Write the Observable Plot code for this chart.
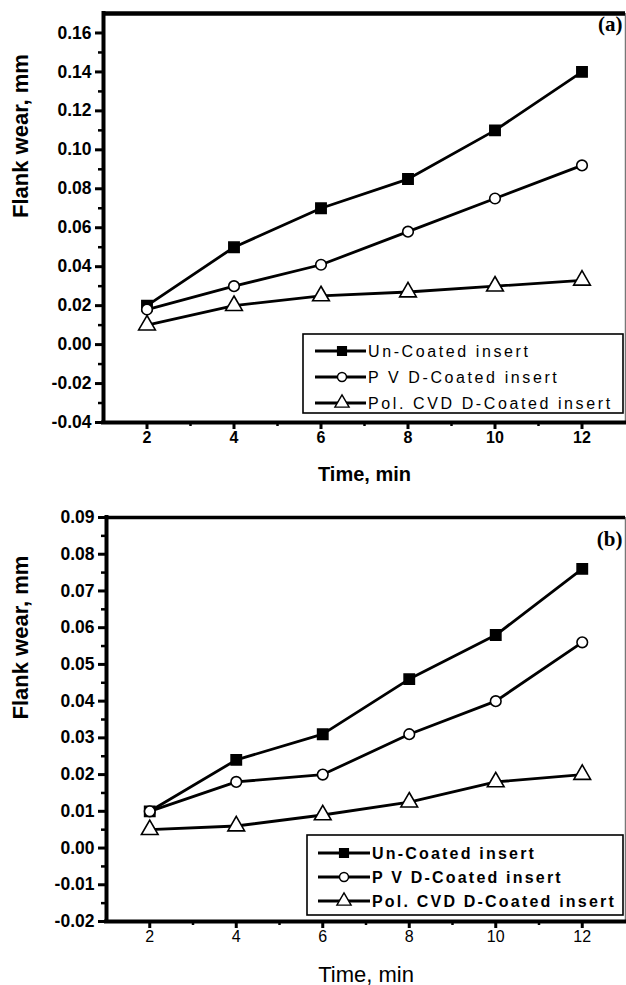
<!DOCTYPE html>
<html><head><meta charset="utf-8">
<script src="https://cdn.jsdelivr.net/npm/d3@7"></script>
<script src="https://cdn.jsdelivr.net/npm/@observablehq/plot@0.6"></script>
<style>
body{margin:0;background:#fff;width:626px;}
#chart svg{display:block;}
</style></head><body><div id="chart"></div>
<script>
// ---- data ----
const timeMin = [2, 4, 6, 8, 10, 12];
const seriesNames = ["Un-Coated insert", "P V D-Coated insert", "Pol. CVD D-Coated insert"];
const seriesSymbols = ["square", "circle", "triangle"];

const wearA_uncoated = [0.020, 0.050, 0.070, 0.085, 0.110, 0.140];
const wearA_pvd      = [0.018, 0.030, 0.041, 0.058, 0.075, 0.092];
const wearA_cvd      = [0.010, 0.020, 0.025, 0.027, 0.030, 0.033];

const wearB_uncoated = [0.010, 0.024, 0.031, 0.046, 0.058, 0.076];
const wearB_pvd      = [0.010, 0.018, 0.020, 0.031, 0.040, 0.056];
const wearB_cvd      = [0.005, 0.006, 0.009, 0.0125, 0.018, 0.020];

const xDomain = [1, 13];
const xTicks = [2, 4, 6, 8, 10, 12];
const xMinorTicks = [3, 5, 7, 9, 11];
const yDomainA = [-0.04, 0.17];
const yTicksA = [-0.04, -0.02, 0.00, 0.02, 0.04, 0.06, 0.08, 0.10, 0.12, 0.14, 0.16];
const yMinorTicksA = [-0.03, -0.01, 0.01, 0.03, 0.05, 0.07, 0.09, 0.11, 0.13, 0.15];
const yDomainB = [-0.02, 0.09];
const yTicksB = [-0.02, -0.01, 0.00, 0.01, 0.02, 0.03, 0.04, 0.05, 0.06, 0.07, 0.08, 0.09];
const yMinorTicksB = [-0.015, -0.005, 0.005, 0.015, 0.025, 0.035, 0.045, 0.055, 0.065, 0.075, 0.085];

const xLabel = "Time, min";
const yLabel = "Flank wear, mm";

// ---- styles ----
const markFill = ["black", "white", "white"];
const markR = [5.8, 5.3, 6.2];
const sans = "'Liberation Sans', Arial, Helvetica, sans-serif";
const serif = "'Liberation Serif', 'Times New Roman', serif";

function tidy(series) {
  const out = [];
  series.forEach((vals, i) => vals.forEach((v, j) => out.push({series: seriesNames[i], time: timeMin[j], wear: v})));
  return out;
}

function panel(cfg) {
  const data = tidy(cfg.series);
  const marks = [
    Plot.ruleX([xDomain[1]], {stroke: "#777", strokeWidth: 1.5}),
    Plot.ruleY([cfg.yDomain[1]], {stroke: "black", strokeWidth: cfg.topW}),
    Plot.ruleY([cfg.yDomain[0]], {stroke: "black", strokeWidth: 4, strokeLinecap: "square"}),
    Plot.ruleX([xDomain[0]], {stroke: "black", strokeWidth: 4, strokeLinecap: "square"}),
    Plot.axisX({ticks: xTicks, tickSize: 7, tickPadding: cfg.xPad, strokeWidth: 3, tickFormat: d => String(d),
      fontSize: 16, fontWeight: cfg.xTickWeight, label: null}),
    Plot.axisX({ticks: xMinorTicks, tickSize: 4, strokeWidth: 2.5, tickFormat: () => "", label: null}),
    Plot.axisY({ticks: cfg.yTicks, tickSize: 8, tickPadding: 4, strokeWidth: 3, tickFormat: d => d.toFixed(2),
      fontSize: 17.5, fontWeight: "bold", label: null}),
    Plot.axisY({ticks: cfg.yMinor, tickSize: 5, strokeWidth: 2.5, tickFormat: () => "", label: null}),
    Plot.text([xLabel], {frameAnchor: "bottom", dy: cfg.xLabelOffset, lineAnchor: "bottom",
      fontSize: cfg.xLabelSize, fontWeight: cfg.xLabelWeight, fontFamily: sans, fill: "black"}),
    Plot.text([yLabel], {frameAnchor: "left", dx: -cfg.yLabelOffset, rotate: -90, lineAnchor: "top",
      fontSize: 22, fontWeight: "bold", fontFamily: sans, fill: "black"}),
    Plot.line(data, {x: "time", y: "wear", z: "series", stroke: "black", strokeWidth: 2.8}),
    ...seriesNames.map((name, i) => Plot.dot(data, {
      filter: d => d.series === name, x: "time", y: "wear",
      symbol: () => seriesSymbols[i], r: markR[i], fill: markFill[i], stroke: "black", strokeWidth: 1.6
    })),
    Plot.text([cfg.tag], {frameAnchor: "top-right", dx: -3, dy: cfg.tagDy, lineAnchor: "middle", textAnchor: "end",
      fontFamily: serif, fontWeight: "bold", fontSize: 21, fill: "black"})
  ];
  const svg = Plot.plot({
    width: 626, height: cfg.height,
    marginLeft: cfg.ml, marginRight: 1, marginTop: cfg.mt, marginBottom: cfg.mb,
    style: {fontFamily: sans, color: "black", background: "white", overflow: "visible"},
    x: {domain: xDomain},
    y: {domain: cfg.yDomain},
    symbol: {domain: seriesNames, range: seriesSymbols},
    marks
  });
  // legend
  const L = cfg.legend;
  const g = d3.select(svg).append("g").attr("class", "legend");
  g.append("rect").attr("x", L.x).attr("y", L.y).attr("width", L.w).attr("height", L.h)
    .attr("fill", "white").attr("stroke", "black").attr("stroke-width", 1.6);
  seriesNames.forEach((name, i) => {
    const cy = L.y + L.rows[i];
    g.append("line").attr("x1", L.lx1).attr("x2", L.lx2).attr("y1", cy).attr("y2", cy)
      .attr("stroke", "black").attr("stroke-width", 2.8);
    g.append("path").attr("transform", `translate(${L.mx},${cy})`)
      .attr("d", d3.symbol(d3[{square: "symbolSquare", circle: "symbolCircle", triangle: "symbolTriangle"}[seriesSymbols[i]]],
        Math.PI * (markR[i] * 0.85) ** 2)())
      .attr("fill", markFill[i]).attr("stroke", "black").attr("stroke-width", 1.4);
    g.append("text").attr("x", L.tx).attr("y", cy).attr("dy", "0.36em").attr("text-anchor", "start")
      .attr("font-family", sans).attr("font-size", L.fs).attr("font-weight", L.fw)
      .attr("letter-spacing", L.ls).attr("fill", "black").text(name);
  });
  return svg;
}

const chart = document.getElementById("chart");
chart.appendChild(panel({
  series: [wearA_uncoated, wearA_pvd, wearA_cvd],
  yDomain: yDomainA, yTicks: yTicksA, yMinor: yMinorTicksA,
  height: 490, ml: 103, mt: 13, mb: 68, topW: 4.5,
  xPad: 2, xTickWeight: "bold", xLabelOffset: 58, xLabelSize: 20, xLabelWeight: "bold",
  yLabelOffset: 91, tag: "(a)", tagDy: 11,
  legend: {x: 303, y: 334, w: 320, h: 79, rows: [17, 43, 69], lx1: 315, lx2: 366, mx: 342, tx: 368,
    fs: 16, fw: "normal", ls: 2.6}
}));
chart.appendChild(panel({
  series: [wearB_uncoated, wearB_pvd, wearB_cvd],
  yDomain: yDomainB, yTicks: yTicksB, yMinor: yMinorTicksB,
  height: 495, ml: 106, mt: 27, mb: 64, topW: 3.5,
  xPad: 2, xTickWeight: "normal", xLabelOffset: 60, xLabelSize: 22, xLabelWeight: "normal",
  yLabelOffset: 94, tag: "(b)", tagDy: 22,
  legend: {x: 307, y: 345, w: 316, h: 80, rows: [18, 42, 66], lx1: 318, lx2: 370, mx: 344, tx: 372,
    fs: 16, fw: "bold", ls: 2.2}
}));
</script></body></html>
